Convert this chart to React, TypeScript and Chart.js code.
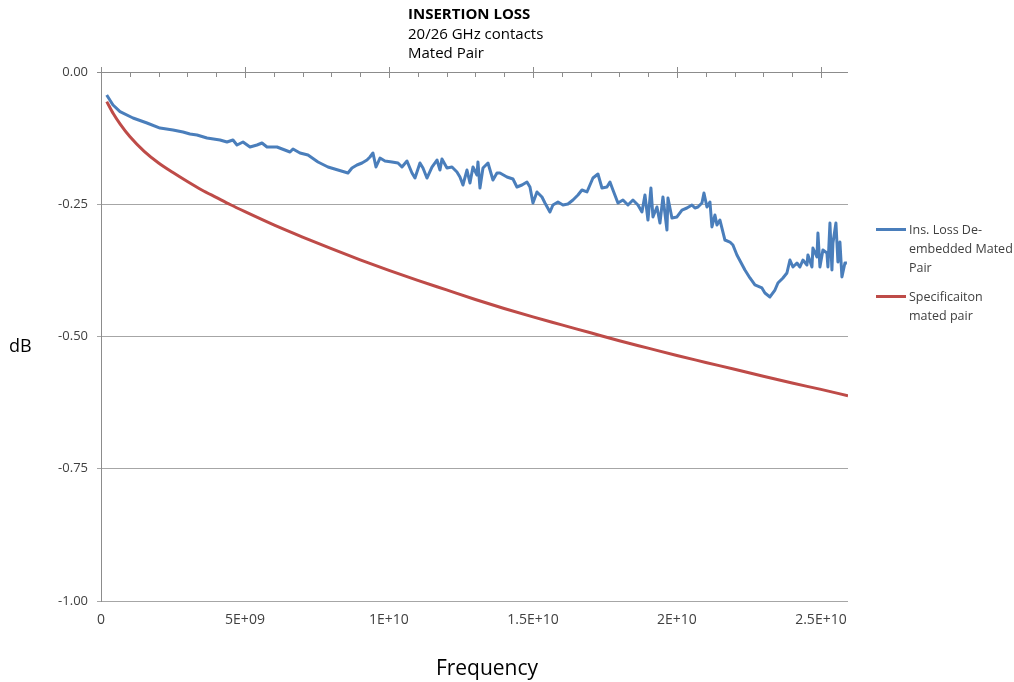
import React, { useEffect, useRef } from "react";
import { Chart, registerables } from "chart.js";

Chart.register(...registerables);

// Measured insertion loss (frequency in GHz, loss in dB)
const measuredFreqGHz = [
  0.198, 0.417, 0.66, 1.111, 1.597, 2.049, 2.5, 2.847, 3.09, 3.333, 3.681, 4.132, 4.375, 4.583, 4.722, 4.931,
  5.174, 5.417, 5.59, 5.764, 6.111, 6.563, 6.667, 6.91, 7.188, 7.535, 7.882, 8.229, 8.576, 8.715, 8.889,
  9.063, 9.236, 9.34, 9.444, 9.549, 9.688, 9.861, 10.104, 10.313, 10.451, 10.625, 10.799, 10.903, 11.076,
  11.181, 11.319, 11.493, 11.667, 11.771, 11.84, 12.014, 12.188, 12.361, 12.465, 12.569, 12.708, 12.813,
  12.917, 13.056, 13.09, 13.16, 13.264, 13.438, 13.611, 13.75, 13.854, 14.097, 14.306, 14.444, 14.618,
  14.792, 14.896, 15.0, 15.139, 15.313, 15.417, 15.59, 15.694, 15.868, 16.042, 16.215, 16.389, 16.563,
  16.701, 16.875, 17.083, 17.257, 17.396, 17.569, 17.674, 17.778, 17.951, 18.125, 18.299, 18.472, 18.646,
  18.785, 18.889, 18.993, 19.097, 19.167, 19.306, 19.41, 19.514, 19.653, 19.688, 19.826, 20.0, 20.174,
  20.347, 20.521, 20.625, 20.729, 20.868, 20.938, 21.042, 21.146, 21.215, 21.319, 21.389, 21.493, 21.667,
  21.84, 21.944, 22.083, 22.361, 22.535, 22.708, 22.951, 23.056, 23.229, 23.403, 23.507, 23.681, 23.819,
  23.924, 24.028, 24.167, 24.271, 24.375, 24.514, 24.549, 24.688, 24.722, 24.861, 24.896, 24.965, 25.069,
  25.208, 25.243, 25.313, 25.382, 25.417, 25.521, 25.59, 25.66, 25.729, 25.833, 25.903,
];
const measuredLossDb = [
  -0.0435, -0.0624, -0.075, -0.087, -0.0964, -0.106, -0.1096, -0.1134, -0.1172, -0.119, -0.1248, -0.1285,
  -0.1323, -0.1285, -0.138, -0.1323, -0.1418, -0.138, -0.1342, -0.1418, -0.1418, -0.1512, -0.1456, -0.1531,
  -0.1569, -0.1701, -0.1796, -0.1853, -0.1909, -0.1815, -0.1758, -0.172, -0.1664, -0.1607, -0.1531, -0.1796,
  -0.1626, -0.1682, -0.1701, -0.172, -0.1796, -0.1682, -0.1909, -0.2004, -0.172, -0.1815, -0.2004, -0.1796,
  -0.1664, -0.1853, -0.1645, -0.1815, -0.1796, -0.189, -0.1985, -0.2136, -0.1853, -0.2098, -0.1796, -0.1947,
  -0.1701, -0.2193, -0.1815, -0.172, -0.2042, -0.1909, -0.1909, -0.1985, -0.2023, -0.2174, -0.2136, -0.2079,
  -0.2174, -0.2476, -0.2268, -0.2363, -0.2476, -0.2647, -0.2514, -0.2457, -0.2514, -0.2495, -0.242, -0.2325,
  -0.2231, -0.2268, -0.2004, -0.1928, -0.2193, -0.2174, -0.2079, -0.2231, -0.2476, -0.242, -0.2514, -0.242,
  -0.2514, -0.2647, -0.2325, -0.2798, -0.2193, -0.2741, -0.2552, -0.2854, -0.2363, -0.2987, -0.2382, -0.276,
  -0.2741, -0.2609, -0.2571, -0.2514, -0.2571, -0.2552, -0.2476, -0.2287, -0.2552, -0.2457, -0.293, -0.2703,
  -0.2892, -0.2798, -0.3176, -0.3214, -0.327, -0.3459, -0.3743, -0.3894, -0.4026, -0.4083, -0.4178, -0.4253,
  -0.4121, -0.3989, -0.3894, -0.38, -0.3554, -0.3686, -0.3611, -0.3686, -0.3554, -0.3648, -0.3459, -0.3686,
  -0.3327, -0.3497, -0.3043, -0.3686, -0.3365, -0.3422, -0.3686, -0.2854, -0.3743, -0.3233, -0.2854, -0.3592,
  -0.3214, -0.3875, -0.3611, -0.3611,
];

// Specification limit (frequency in GHz, loss in dB)
const specFreqGHz = [
  0.2, 0.43, 0.66, 1, 1.5, 2, 2.5, 3, 3.5, 4, 4.5, 5, 6, 7, 8, 9, 10, 11, 12, 13, 14, 15, 16, 17, 18, 19, 20, 21,
  22, 23, 24, 25, 25.94,
];
const specLossDb = [
  -0.056, -0.079, -0.098, -0.122, -0.15, -0.172, -0.19, -0.207, -0.223, -0.237, -0.251, -0.264, -0.289, -0.312,
  -0.334, -0.355, -0.375, -0.394, -0.412, -0.43, -0.447, -0.463, -0.478, -0.493, -0.508, -0.522, -0.536,
  -0.549, -0.562, -0.575, -0.588, -0.6, -0.612,
];

const seriesLabels = ["Ins. Loss De-embedded Mated Pair", "Specificaiton mated pair"];
const seriesColors = ["#4A7EBB", "#BE4B48"];
const xTickValues = [0, 5e9, 1e10, 1.5e10, 2e10, 2.5e10];
const xTickLabels = ["0", "5E+09", "1E+10", "1.5E+10", "2E+10", "2.5E+10"];
const X_MAX = 2.594e10;

const FONT = "'Open Sans', 'Liberation Sans', sans-serif";

const topAxisPlugin = {
  id: "topAxis",
  afterDatasetsDraw(chart: any) {
    const { ctx, chartArea } = chart;
    const xs = chart.scales.x;
    const ys = chart.scales.y;
    const y0 = ys.getPixelForValue(0);
    ctx.save();
    ctx.strokeStyle = "#8c8c8c";
    ctx.lineWidth = 1;
    ctx.beginPath();
    ctx.moveTo(chartArea.left - 4, y0 + 0.5);
    ctx.lineTo(chartArea.right, y0 + 0.5);
    for (let i = 0; i <= 25; i++) {
      const px = Math.round(xs.getPixelForValue(i * 1e9)) + 0.5;
      if (i % 5 === 0) {
        ctx.moveTo(px, y0 - 5);
        ctx.lineTo(px, y0 + 6);
      } else {
        ctx.moveTo(px, y0);
        ctx.lineTo(px, y0 + 5);
      }
    }
    ctx.stroke();
    ctx.restore();
  },
};

export default function App() {
  const canvasRef = useRef<HTMLCanvasElement | null>(null);

  useEffect(() => {
    if (!canvasRef.current) return;
    const chart = new Chart(canvasRef.current, {
      type: "line",
      data: {
        datasets: [
          {
            label: seriesLabels[0],
            data: measuredFreqGHz.map((f, i) => ({ x: f * 1e9, y: measuredLossDb[i] })),
            borderColor: seriesColors[0],
            backgroundColor: seriesColors[0],
            borderWidth: 3,
            pointRadius: 0,
            tension: 0,
            borderJoinStyle: "round",
          },
          {
            label: seriesLabels[1],
            data: specFreqGHz.map((f, i) => ({ x: f * 1e9, y: specLossDb[i] })),
            borderColor: seriesColors[1],
            backgroundColor: seriesColors[1],
            borderWidth: 3,
            pointRadius: 0,
            cubicInterpolationMode: "monotone",
          },
        ],
      },
      options: {
        animation: false,
        responsive: false,
        maintainAspectRatio: false,
        layout: { padding: { left: 0, top: 72, right: 166, bottom: 41 } },
        plugins: {
          legend: { display: false },
          title: { display: false },
          tooltip: { enabled: false },
        },
        scales: {
          x: {
            type: "linear",
            position: "bottom",
            min: 0,
            max: X_MAX,
            afterFit: (s: any) => {
              s.height = 40;
            },
            afterBuildTicks: (s: any) => {
              s.ticks = xTickValues.map((v) => ({ value: v }));
            },
            ticks: {
              padding: 11,
              maxRotation: 0,
              autoSkip: false,
              color: "#404040",
              font: { family: FONT, size: 14 },
              callback: (v: any) => {
                const i = xTickValues.indexOf(Number(v));
                return i >= 0 ? xTickLabels[i] : "";
              },
            },
            grid: { display: false, drawTicks: false },
            border: { display: false },
          },
          y: {
            min: -1,
            max: 0,
            afterFit: (s: any) => {
              s.width = 101;
            },
            ticks: {
              stepSize: 0.25,
              padding: 9,
              color: "#404040",
              font: { family: FONT, size: 13 },
              callback: (v: any) => Number(v).toFixed(2),
            },
            grid: { color: "#a6a6a6", lineWidth: 1, tickLength: 4 },
            border: { display: true, color: "#8c8c8c", width: 1 },
          },
        },
      },
      plugins: [topAxisPlugin],
    } as any);
    return () => chart.destroy();
  }, []);

  const legendText: React.CSSProperties = {
    position: "absolute",
    left: 909,
    whiteSpace: "nowrap",
    fontFamily: FONT,
    fontSize: 12.5,
    lineHeight: "19px",
    color: "#404040",
  };

  return (
    <div style={{ position: "absolute", left: 0, top: 0, width: 1014, height: 682, background: "#fff" }}>
      <canvas ref={canvasRef} width={1014} height={682} style={{ position: "absolute", left: 0, top: 0 }} />
      <div
        style={{
          position: "absolute",
          left: 408,
          top: 4,
          fontFamily: FONT,
          fontSize: 15,
          lineHeight: "19.5px",
          color: "#000",
          whiteSpace: "nowrap",
        }}
      >
        <div style={{ fontWeight: "bold" }}>INSERTION LOSS</div>
        <div>20/26 GHz contacts</div>
        <div>Mated Pair</div>
      </div>
      <div style={{ position: "absolute", left: 9, top: 333, fontFamily: FONT, fontSize: 18, color: "#000" }}>dB</div>
      <div
        style={{
          position: "absolute",
          left: 387,
          width: 200,
          top: 653,
          textAlign: "center",
          fontFamily: FONT,
          fontSize: 21,
          color: "#000",
        }}
      >
        Frequency
      </div>
      <div style={{ position: "absolute", left: 876, top: 228, width: 30, height: 3, background: seriesColors[0] }} />
      <div style={{ ...legendText, top: 220 }}>
        Ins. Loss De-
        <br />
        embedded Mated
        <br />
        Pair
      </div>
      <div style={{ position: "absolute", left: 876, top: 295, width: 30, height: 3, background: seriesColors[1] }} />
      <div style={{ ...legendText, top: 287 }}>
        Specificaiton
        <br />
        mated pair
      </div>
    </div>
  );
}
